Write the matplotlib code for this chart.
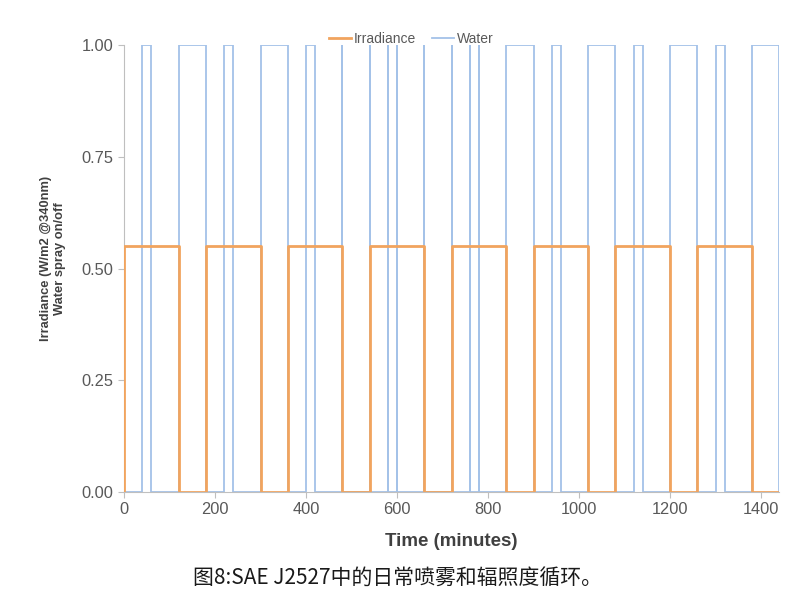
import matplotlib
matplotlib.use("Agg")
import matplotlib.pyplot as plt

# ---- data ----
irr_level = 0.55
light_on = [(0, 120), (180, 300), (360, 480), (540, 660), (720, 840),
            (900, 1020), (1080, 1200), (1260, 1380)]
t_end = 1440

water_pulses = [(40, 60), (120, 180), (220, 240), (300, 360), (400, 420),
                (840, 900), (940, 960), (1020, 1080), (1120, 1140),
                (1200, 1260), (1300, 1320), (1380, 1440)]
water_spikes = [480, 540, 580, 600, 660, 720, 760, 780]

x_ticks = [0, 200, 400, 600, 800, 1000, 1200, 1400]
y_ticks = [0.0, 0.25, 0.5, 0.75, 1.0]

# ---- build step lines ----
irr_x, irr_y = [0], [0]
for s, e in light_on:
    irr_x += [s, s, e, e]
    irr_y += [0, irr_level, irr_level, 0]
irr_x.append(t_end)
irr_y.append(0)

events = [(s, e, False) for s, e in water_pulses] + [(s, s, True) for s in water_spikes]
events.sort()
wat_x, wat_y = [0], [0]
for s, e, spike in events:
    if spike:
        wat_x += [s, s, s]
        wat_y += [0, 1, 0]
    else:
        wat_x += [s, s, e, e]
        wat_y += [0, 1, 1, 0]
wat_x.append(t_end)
wat_y.append(0)

# ---- plot ----
plt.rcParams['font.family'] = ['Liberation Sans', 'DejaVu Sans']
fig = plt.figure(figsize=(8, 6.03), dpi=100)
ax = fig.add_axes([0.155, 0.184, 0.819, 0.741])

lw, = ax.plot(wat_x, wat_y, color='#A4C2E8', lw=1.3, label='Water', zorder=2)
li, = ax.plot(irr_x, irr_y, color='#F1A45E', lw=2.0, label='Irradiance', zorder=3)

ax.set_xlim(0, 1440)
ax.set_ylim(0, 1.0)
ax.set_xticks(x_ticks)
ax.set_yticks(y_ticks)
ax.set_yticklabels([f"{v:.2f}" for v in y_ticks])
for sp in ['top', 'right']:
    ax.spines[sp].set_visible(False)
for sp in ['left', 'bottom']:
    ax.spines[sp].set_color('#BFBFBF')
ax.tick_params(axis='both', colors='#BFBFBF', labelcolor='#595959',
               labelsize=11.8, length=4, width=0.8)
ax.set_xlabel('Time (minutes)', fontsize=13.5, fontweight='bold', color='#404040', labelpad=11)
ax.set_ylabel('Irradiance (W/m2 @340nm)\nWater spray on/off', fontsize=9.3,
              fontweight='bold', color='#404040')
ax.yaxis.set_label_coords(-0.089, 0.522)
ax.patch.set_alpha(0)

fig.legend(handles=[li, lw], labels=['Irradiance', 'Water'], loc='upper center',
           bbox_to_anchor=(0.514, 0.968), ncol=2, frameon=False, fontsize=10,
           labelcolor='#595959', handlelength=1.6, handletextpad=0.2, columnspacing=1.1)

fig.text(0.497, 0.041, '图8:SAE J2527中的日常喷雾和辐照度循环。', ha='center', va='center',
         fontsize=15, color='#1a1a1a', family=['Noto Sans CJK SC', 'DejaVu Sans'])

fig.savefig('out.png', dpi=100)
